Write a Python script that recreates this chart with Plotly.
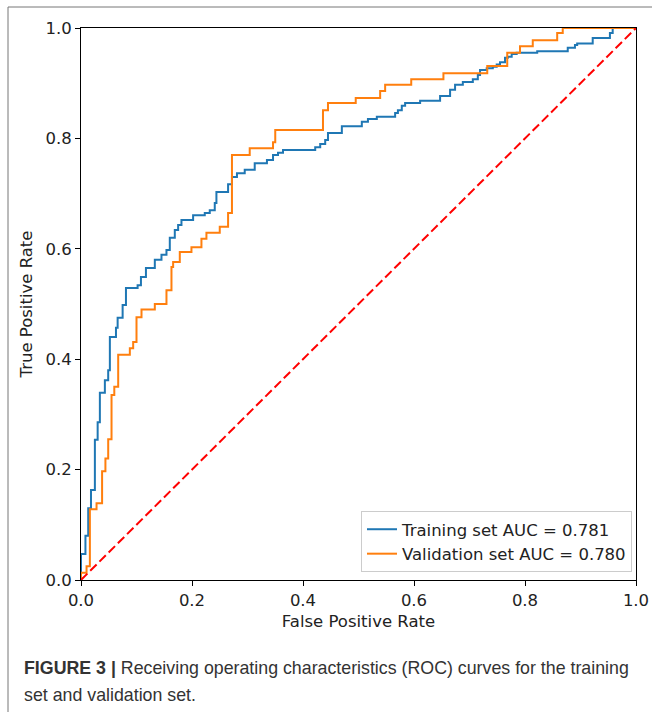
import plotly.graph_objects as go

# Training ROC (step corners: at fpr x, tpr jumps up to y)
train_fpr = [0.0, 0.0, 0.008, 0.013, 0.018, 0.025, 0.030, 0.034, 0.043, 0.049, 0.052, 0.063, 0.066,
             0.075, 0.081, 0.102, 0.108, 0.117, 0.133, 0.145, 0.154, 0.160, 0.169, 0.175, 0.181,
             0.202, 0.223, 0.232, 0.241, 0.244, 0.265, 0.272, 0.281, 0.295, 0.313, 0.335, 0.346,
             0.355, 0.364, 0.422, 0.431, 0.440, 0.445, 0.470, 0.506, 0.517, 0.533, 0.566, 0.571,
             0.578, 0.584, 0.611, 0.647, 0.665, 0.674, 0.688, 0.706, 0.715, 0.719, 0.731, 0.742,
             0.749, 0.755, 0.764, 0.769, 0.776, 0.785, 0.822, 0.877, 0.890, 0.894, 0.922, 0.953,
             0.958, 1.0]
train_tpr = [0.0, 0.047, 0.080, 0.130, 0.163, 0.254, 0.286, 0.339, 0.362, 0.380, 0.440, 0.457, 0.475,
             0.498, 0.529, 0.534, 0.549, 0.565, 0.580, 0.589, 0.598, 0.620, 0.634, 0.643, 0.652,
             0.661, 0.665, 0.670, 0.683, 0.703, 0.717, 0.730, 0.737, 0.743, 0.755, 0.761, 0.770,
             0.774, 0.779, 0.784, 0.790, 0.797, 0.810, 0.822, 0.830, 0.835, 0.839, 0.846, 0.851,
             0.859, 0.864, 0.868, 0.877, 0.888, 0.897, 0.902, 0.907, 0.915, 0.924, 0.927, 0.930,
             0.934, 0.938, 0.946, 0.948, 0.953, 0.955, 0.958, 0.964, 0.969, 0.972, 0.982, 0.991,
             1.0, 1.0]

# Validation ROC
val_fpr = [0.0, 0.0, 0.010, 0.016, 0.028, 0.038, 0.044, 0.049, 0.055, 0.060, 0.067, 0.088, 0.094,
           0.100, 0.109, 0.133, 0.154, 0.163, 0.166, 0.178, 0.199, 0.217, 0.226, 0.250, 0.265,
           0.272, 0.304, 0.346, 0.350, 0.436, 0.445, 0.495, 0.539, 0.548, 0.595, 0.653, 0.732,
           0.768, 0.791, 0.814, 0.858, 0.868, 1.0]
val_tpr = [0.0, 0.013, 0.025, 0.128, 0.139, 0.197, 0.220, 0.255, 0.335, 0.350, 0.408, 0.420, 0.431,
           0.476, 0.490, 0.500, 0.525, 0.567, 0.576, 0.594, 0.603, 0.618, 0.629, 0.640, 0.665,
           0.770, 0.782, 0.793, 0.815, 0.851, 0.864, 0.873, 0.886, 0.897, 0.907, 0.918, 0.931,
           0.955, 0.967, 0.978, 0.991, 1.0, 1.0]

diag = [0.0, 1.0]
ticks = [0.0, 0.2, 0.4, 0.6, 0.8, 1.0]
names = ["Training set AUC = 0.781", "Validation set AUC = 0.780"]
caption_bold = "FIGURE 3 |"
caption_1 = " Receiving operating characteristics (ROC) curves for the training"
caption_2 = "set and validation set."

W, H = 652, 712
L, R, T, B = 81, 16, 28, 132
pw, ph = W - L - R, H - T - B

def px(x):
    return (x - L) / pw

def py(y):
    return (H - B - y) / ph

FS = 16.5
fig = go.Figure()
fig.add_trace(go.Scatter(x=train_fpr, y=train_tpr, mode="lines", line_shape="hv",
                         line=dict(color="#1f77b4", width=2), name=names[0]))
fig.add_trace(go.Scatter(x=val_fpr, y=val_tpr, mode="lines", line_shape="hv",
                         line=dict(color="#ff7f0e", width=2), name=names[1]))
fig.add_trace(go.Scatter(x=diag, y=diag, mode="lines", showlegend=False,
                         line=dict(color="#ff0000", width=2, dash="9px,4px")))

axis_common = dict(range=[0, 1], tickvals=ticks, ticktext=[f"{t:.1f}" for t in ticks],
                   showgrid=False, zeroline=False, showline=True, linecolor="black",
                   linewidth=1, mirror=True, ticks="outside", ticklen=5, tickcolor="black",
                   automargin=False,
                   tickfont=dict(family="DejaVu Sans", size=FS, color="#222"))

fig.update_layout(
    width=W, height=H,
    margin=dict(l=L, r=R, t=T, b=B),
    paper_bgcolor="white", plot_bgcolor="white",
    xaxis=dict(**axis_common, title=dict(text="False Positive Rate", standoff=6,
                                         font=dict(family="DejaVu Sans", size=FS, color="#222"))),
    yaxis=dict(**axis_common, title=dict(text="True Positive Rate", standoff=8,
                                         font=dict(family="DejaVu Sans", size=FS, color="#222"))),
    legend=dict(x=px(632), y=py(572), xanchor="right", yanchor="bottom",
                bgcolor="white", bordercolor="#cccccc", borderwidth=1,
                font=dict(family="DejaVu Sans", size=FS, color="#222"),
                tracegroupgap=0),
    showlegend=True,
)

# outer frame (top and left edges)
fig.add_shape(type="line", xref="paper", yref="paper", x0=px(8), x1=px(652), y0=py(7), y1=py(7),
              line=dict(color="#777777", width=1))
fig.add_shape(type="line", xref="paper", yref="paper", x0=px(8), x1=px(8), y0=py(7), y1=py(712),
              line=dict(color="#777777", width=1))

CFS = 17.8
fig.add_annotation(xref="paper", yref="paper", x=px(22), y=py(668), xanchor="left", yanchor="middle",
                   showarrow=False, align="left",
                   text=f"<b>{caption_bold}</b>{caption_1}",
                   font=dict(family="Liberation Sans", size=CFS, color="#333"))
fig.add_annotation(xref="paper", yref="paper", x=px(22), y=py(695), xanchor="left", yanchor="middle",
                   showarrow=False, align="left", text=caption_2,
                   font=dict(family="Liberation Sans", size=CFS, color="#333"))

fig.write_html("out.html")
